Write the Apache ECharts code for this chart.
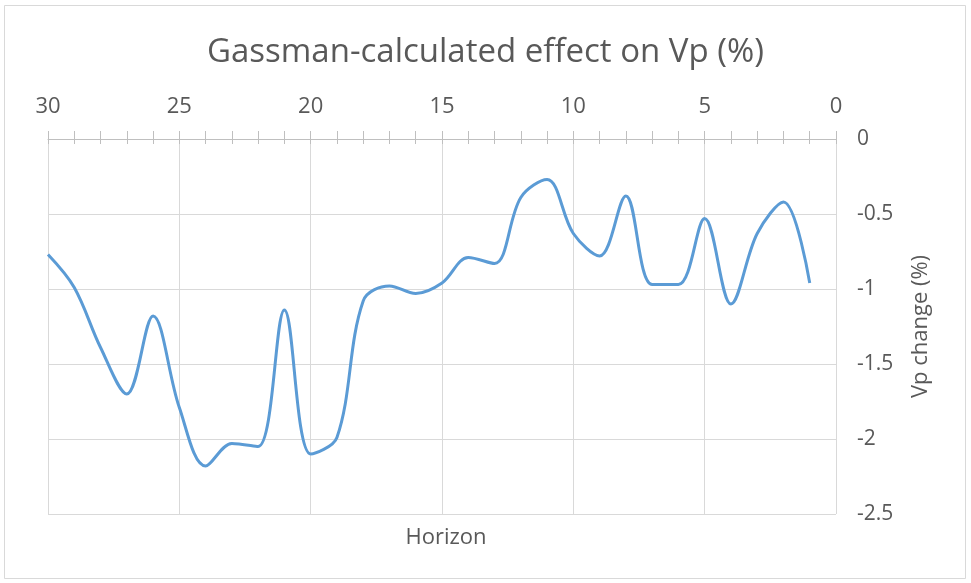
<!DOCTYPE html>
<html>
<head>
<meta charset="utf-8">
<script src="https://cdn.jsdelivr.net/npm/echarts@6/dist/echarts.min.js"></script>
<style>
  html, body { margin: 0; padding: 0; background: #fff; }
  #myChart { width: 971px; height: 583px; }
</style>
</head>
<body>
<div id="myChart"></div>
<script>
// horizon number and Vp change (%)
const horizons = [30, 29, 28, 27, 26, 25, 24, 23, 22, 21, 20, 19, 18, 17, 16, 15,
  14, 13, 12, 11, 10, 9, 8, 7, 6, 5, 4, 3, 2, 1]
const vpChange = [-0.77, -0.99, -1.39, -1.70, -1.18, -1.79, -2.18, -2.03, -2.05, -1.14,
  -2.10, -1.99, -1.08, -0.98, -1.03, -0.96, -0.79, -0.83, -0.39, -0.27,
  -0.63, -0.78, -0.38, -0.97, -0.97, -0.53, -1.10, -0.63, -0.42, -0.96]

const titleText = 'Gassman-calculated effect on Vp (%)'
const xName = 'Horizon'
const yName = 'Vp change (%)'

const textColor = '#595959'
const fontFamily = '"Open Sans", "Noto Sans", sans-serif'

const chart = echarts.init(document.getElementById('myChart'), null, { renderer: 'canvas' })

// shared settings for the top axis; a second copy draws the inner half of the ticks
const xTickStyle = { color: '#bfbfbf', width: 1 }

const option = {
  animation: false,
  backgroundColor: '#fff',
  title: [
    {
      text: titleText,
      left: 'center',
      top: 31,
      textStyle: { color: textColor, fontSize: 33, fontWeight: 'normal', fontFamily: fontFamily }
    },
    {
      text: xName,
      left: 441,
      top: 522,
      textAlign: 'center',
      textStyle: { color: textColor, fontSize: 22, fontWeight: 'normal', fontFamily: fontFamily }
    }
  ],
  graphic: [
    {
      type: 'rect',
      shape: { x: 4.5, y: 5.5, width: 961, height: 573 },
      style: { fill: null, stroke: '#d9d9d9', lineWidth: 1 },
      silent: true
    }
  ],
  grid: {
    left: 48,
    right: 135,
    top: 139,
    bottom: 69
  },
  xAxis: [
    {
      type: 'value',
      position: 'top',
      inverse: true,
      min: 0,
      max: 30,
      interval: 5,
      axisLine: { show: true, lineStyle: xTickStyle },
      axisTick: { show: true, length: 8, lineStyle: xTickStyle },
      minorTick: { show: true, splitNumber: 5, length: 8, lineStyle: xTickStyle },
      splitLine: { show: true, lineStyle: { color: '#d9d9d9', width: 1 } },
      axisLabel: { color: textColor, fontSize: 22, margin: 21, fontFamily: fontFamily }
    },
    {
      type: 'value',
      position: 'top',
      inverse: true,
      min: 0,
      max: 30,
      interval: 5,
      axisLine: { show: false },
      axisTick: { show: true, inside: true, length: 5, lineStyle: xTickStyle },
      minorTick: { show: true, splitNumber: 5, length: 5, lineStyle: xTickStyle },
      splitLine: { show: false },
      axisLabel: { show: false }
    }
  ],
  yAxis: {
    type: 'value',
    position: 'right',
    min: -2.5,
    max: 0,
    interval: 0.5,
    name: yName,
    nameLocation: 'middle',
    nameRotate: 90,
    nameGap: 74,
    nameTextStyle: { color: textColor, fontSize: 22, fontFamily: fontFamily },
    axisLine: { show: false },
    axisTick: { show: false },
    splitLine: { show: true, lineStyle: { color: '#d9d9d9', width: 1 } },
    axisLabel: { color: textColor, fontSize: 21, margin: 21, fontFamily: fontFamily }
  },
  series: [
    {
      type: 'line',
      xAxisIndex: 0,
      data: horizons.map((h, i) => [h, vpChange[i]]),
      smooth: 0.35,
      showSymbol: false,
      lineStyle: { color: '#5b9bd5', width: 3 },
      itemStyle: { color: '#5b9bd5' }
    }
  ]
}

chart.setOption(option)
</script>
</body>
</html>
